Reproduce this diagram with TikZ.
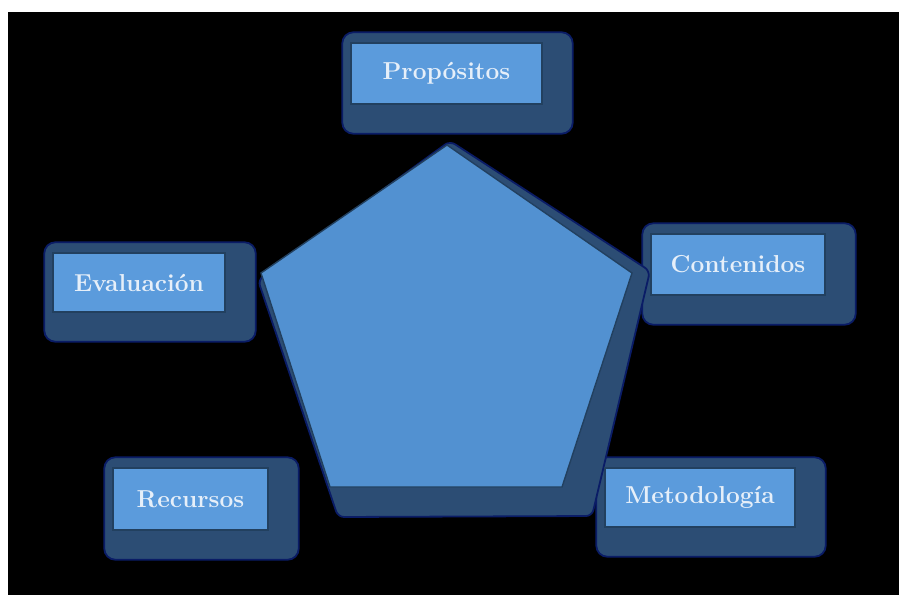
\documentclass[tikz,border=0pt]{standalone}
\usepackage{fontspec}
\usetikzlibrary{backgrounds}
\definecolor{boxblue}{HTML}{5B9BDC}
\definecolor{pentblue}{HTML}{5291D1}
\definecolor{shade}{HTML}{2C4D74}
\definecolor{fringe}{HTML}{0A1C66}
\definecolor{edge}{HTML}{22405F}
\definecolor{txt}{HTML}{E6EFF9}
\begin{document}
\begin{tikzpicture}[x=1pt,y=-1pt,
  shadowbox/.style={fill=shade, draw=fringe, line width=1.8pt, rounded corners=11pt},
  itembox/.style={fill=boxblue, draw=edge, line width=1.4pt, inner sep=0pt},
  itemtext/.style={text=txt, font=\fontsize{24.5}{28}\selectfont\bfseries},
  pentshadow/.style={fill=shade, draw=fringe, line width=1.8pt, rounded corners=6pt},
  pentface/.style={fill=pentblue, draw=edge, line width=1.4pt}]
\useasboundingbox (0,0) rectangle (899,595);

% boxes (nodes)
\node[itembox, itemtext, minimum width=191pt, minimum height=61pt] (prop) at (446.5,73.5) {Propósitos};
\node[itembox, itemtext, minimum width=172pt, minimum height=59pt] (eval) at (139,282.5) {Evaluación};
\node[itembox, itemtext, minimum width=174pt, minimum height=61pt] (cont) at (738,264.5) {Contenidos};
\node[itembox, itemtext, minimum width=155pt, minimum height=62pt] (recu) at (190.5,499) {Recursos};
\node[itembox, itemtext, minimum width=190pt, minimum height=59pt] (meto) at (700,497.5) {Metodología};

% pentagon corners
\coordinate (pt) at (447,145);
\coordinate (pr) at (632,273);
\coordinate (pbr) at (562,487);
\coordinate (pbl) at (330,487);
\coordinate (pl) at (261,273);

\begin{scope}[on background layer]
  \fill[white] (0,0) rectangle (899,595);
  \fill[black] (8,12) rectangle (899,595);
  \foreach \n in {prop,eval,cont,recu,meto}
    \draw[shadowbox] ([shift={(-8,-10)}]\n.north west) rectangle ([shift={(30,29)}]\n.south east);
  \draw[pentshadow] ([shift={(3,-4)}]pt) -- ([shift={(18,-2)}]pr) -- ([shift={(30,29)}]pbr)
     -- ([shift={(8,30)}]pbl) -- ([shift={(-3,7)}]pl) -- cycle;
  \draw[pentface] (pt) -- (pr) -- (pbr) -- (pbl) -- (pl) -- cycle;
\end{scope}
\end{tikzpicture}
\end{document}
